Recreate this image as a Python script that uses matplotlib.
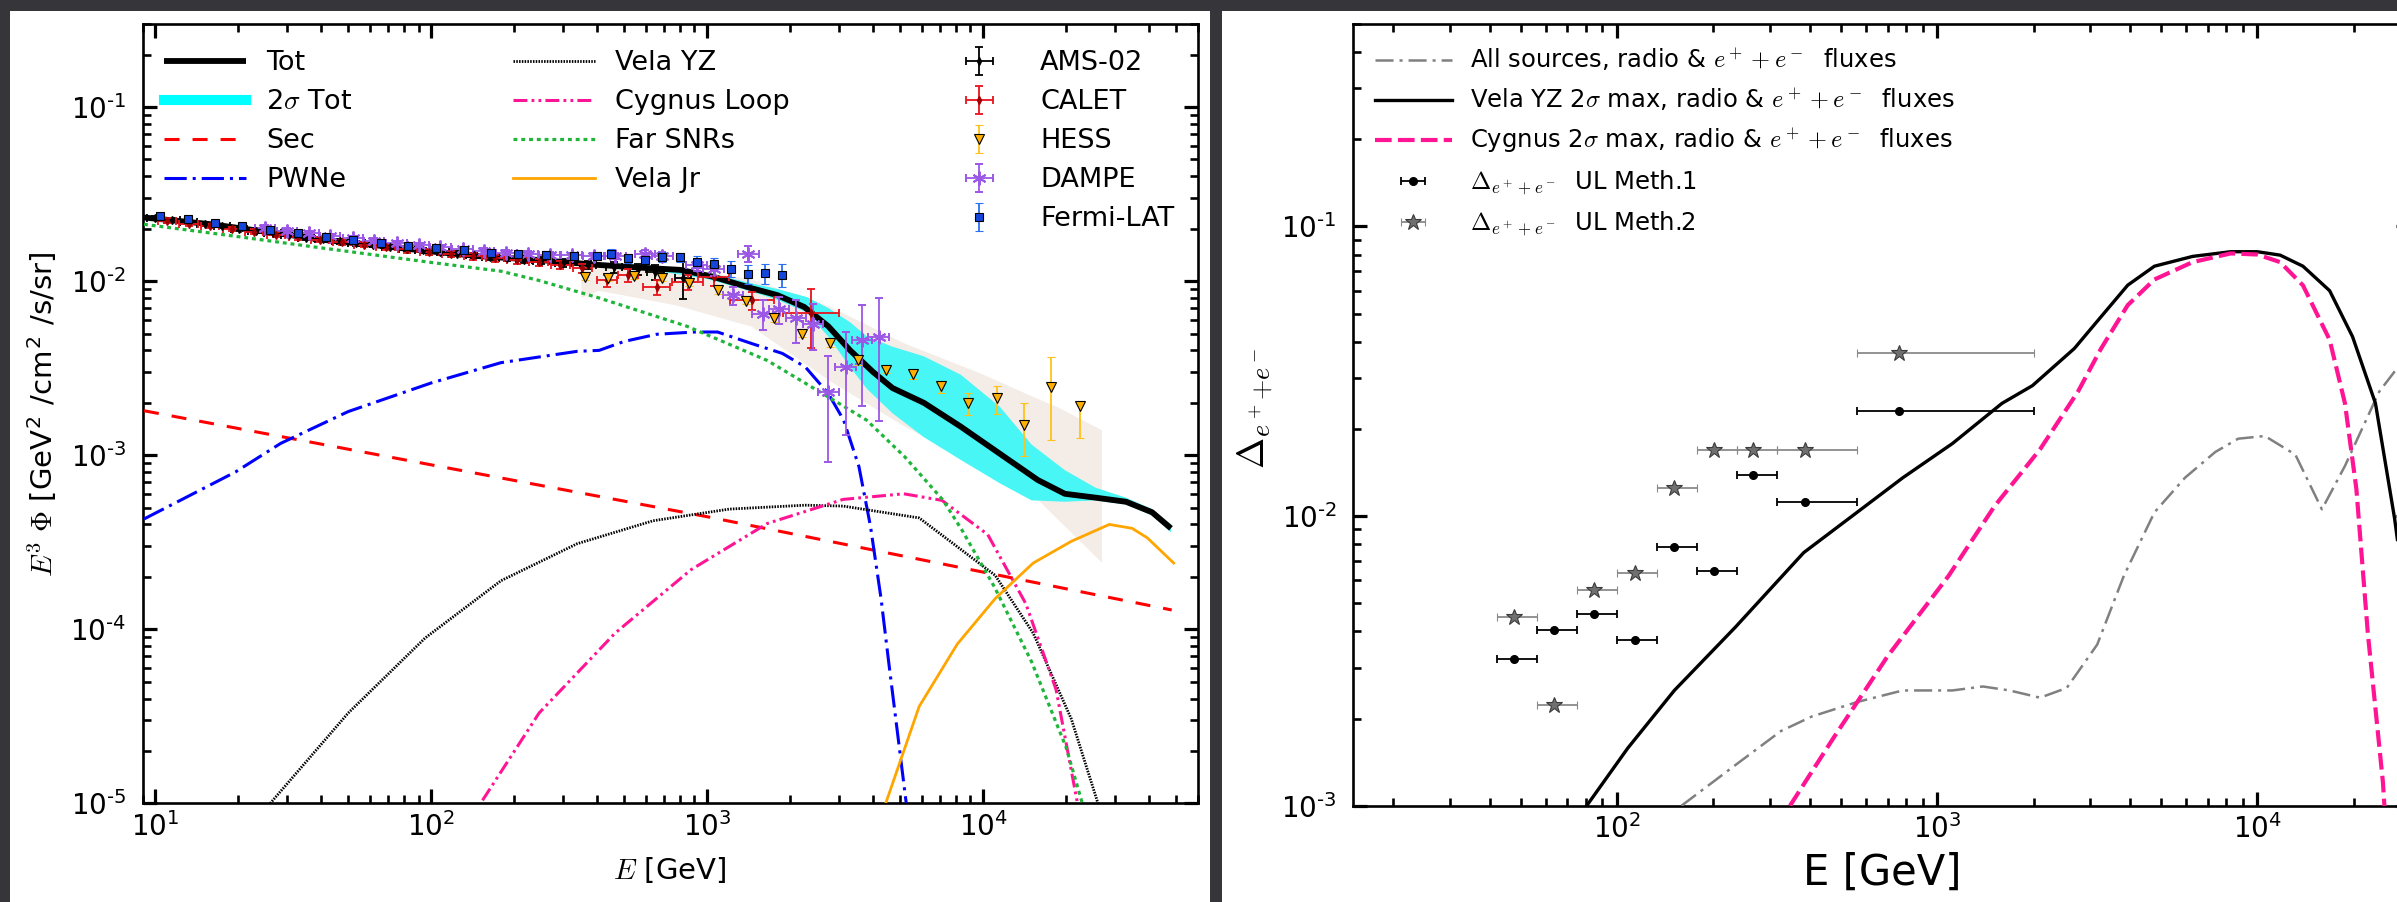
import numpy as np
import matplotlib
matplotlib.use("Agg")
import matplotlib.pyplot as plt
from matplotlib.lines import Line2D
from matplotlib.patches import Rectangle
from matplotlib.ticker import LogLocator, NullFormatter, FuncFormatter

plt.rcParams['font.family'] = ['DejaVu Sans']
plt.rcParams['mathtext.fontset'] = 'cm'
plt.rcParams['lines.scale_dashes'] = False

# ---------------- left panel: E^3 flux [GeV^2 / cm^2 / s / sr] ----------------
tot_E = [9.1, 12, 16, 20, 30, 40, 60, 100, 150, 250, 400, 600, 800, 1050, 1450, 1800,
         2250, 2750, 3300, 4000, 4700, 6100, 8300, 11500, 15800, 19800, 25600, 33000,
         41000, 48000]
tot_F = [0.0232, 0.0222, 0.0212, 0.0202, 0.0185, 0.0173, 0.0162, 0.0148, 0.0139, 0.0132,
         0.0124, 0.0119, 0.0116, 0.0106, 0.0091, 0.0083, 0.0071, 0.0055, 0.0040, 0.0030,
         0.00243, 0.0020, 0.00146, 0.00102, 0.00072, 0.00060, 0.00057, 0.00054,
         0.00047, 0.00038]

band_E = [600, 1000, 1450, 1800, 2300, 2750, 3300, 3800, 4700, 6100, 8300, 11500, 15000,
          19800, 25600, 33000, 41000, 48000]
band_hi = [0.0124, 0.0112, 0.0097, 0.0090, 0.0081, 0.0070, 0.0058, 0.0048, 0.0042, 0.0037,
           0.0029, 0.0019, 0.00115, 0.00082, 0.00065, 0.00057, 0.00049, 0.00040]
band_lo = [0.0117, 0.0103, 0.0087, 0.0078, 0.0066, 0.0048, 0.0032, 0.0024, 0.00174, 0.00127,
           0.00094, 0.00069, 0.00055, 0.00054, 0.00055, 0.00052, 0.00045, 0.00036]

env_E = [350, 406, 769, 1456, 2750, 5200, 9840, 15850, 18600, 27000]
env_hi = [0.0115, 0.0122, 0.0121, 0.0102, 0.0072, 0.00438, 0.00294, 0.0021, 0.00189, 0.00139]
env_lo = [0.0080, 0.0088, 0.00726, 0.00546, 0.0027, 0.00146, 0.000857, 0.000552, 0.00043,
          0.000241]

sec_E = [9.1, 100, 1000, 10000, 48300]
sec_F = [1.8e-3, 8.8e-4, 4.43e-4, 2.13e-4, 1.29e-4]

pwn_E = [9.1, 19.5, 28.5, 50, 100, 179, 338, 406, 500, 656, 901, 1091, 1456, 1875, 2270,
         2750, 3125, 3550, 3910, 4270, 4550, 5270, 5600]
pwn_F = [4.3e-4, 8.0e-4, 1.17e-3, 1.78e-3, 2.6e-3, 3.4e-3, 3.95e-3, 4.0e-3, 4.5e-3, 4.95e-3,
         5.1e-3, 5.1e-3, 4.37e-3, 3.84e-3, 3.21e-3, 2.26e-3, 1.59e-3, 8.6e-4, 3.9e-4,
         1.5e-4, 6.5e-5, 1e-5, 5e-6]

velayz_E = [24, 26.1, 50, 95, 179, 338, 637, 1202, 2265, 3112, 5870, 11070, 15200, 20900,
            26100, 28000]
velayz_F = [8e-6, 1e-5, 3.3e-5, 8.9e-5, 1.9e-4, 3.1e-4, 4.2e-4, 4.9e-4, 5.16e-4, 5.1e-4,
            4.36e-4, 2.04e-4, 9.5e-5, 3.05e-5, 1.0e-5, 6e-6]

cyg_E = [140, 151, 246, 464, 875, 1652, 3112, 5160, 7100, 10400, 14300, 18400, 22000, 23000]
cyg_F = [7e-6, 1e-5, 3.3e-5, 9.5e-5, 2.2e-4, 4.05e-4, 5.57e-4, 6.0e-4, 5.5e-4, 3.5e-4,
         1.4e-4, 4.5e-5, 1e-5, 6e-6]

far_E = [9.1, 19.5, 36.7, 100, 179, 245, 406, 846, 1652, 2750, 3785, 5200, 7160, 8400,
         11000, 15000, 20000, 22900, 24000]
far_F = [0.0212, 0.0181, 0.0158, 0.0128, 0.0114, 0.0101, 0.0080, 0.0055, 0.0035, 0.00216,
         0.00159, 0.00098, 0.000552, 0.00037, 0.000175, 6.5e-5, 2.1e-5, 1.0e-5, 7e-6]

velajr_E = [4300, 4440, 5870, 8060, 11070, 15200, 20900, 28700, 34700, 39400, 49100]
velajr_F = [8e-6, 1e-5, 3.6e-5, 8.2e-5, 1.5e-4, 2.4e-4, 3.2e-4, 4.0e-4, 3.8e-4, 3.35e-4, 2.4e-4]

# measurements
ams_E = [10.0, 11.5, 13.2, 15.2, 17.5, 20.1, 23.1, 26.6, 30.6, 35.2, 40.5, 46.6, 53.6, 61.6,
         70.9, 81.5, 93.7, 108, 124, 143, 164, 189, 217, 250, 300, 370, 460, 560, 650, 820]
ams_F = [0.0231, 0.0225, 0.0218, 0.0212, 0.0206, 0.0200, 0.0194, 0.0189, 0.0184, 0.0178,
         0.0174, 0.0169, 0.0165, 0.0161, 0.0157, 0.0153, 0.0150, 0.0147, 0.0144, 0.0141,
         0.0138, 0.0136, 0.0133, 0.0131, 0.0127, 0.0124, 0.0120, 0.0117, 0.0113, 0.0104]
ams_dF = [0.0006, 0.0006, 0.0005, 0.0005, 0.0005, 0.0005, 0.0005, 0.0005, 0.0005, 0.0005,
          0.0005, 0.0005, 0.0005, 0.0005, 0.0005, 0.0005, 0.0005, 0.0005, 0.0005, 0.0005,
          0.0005, 0.0006, 0.0006, 0.0006, 0.0007, 0.0007, 0.0008, 0.0009, 0.0011, 0.0025]
ams_bin = 1.07

cal_E = [11.0, 13.2, 15.8, 19.0, 22.8, 27.4, 32.9, 39.5, 47.4, 56.9, 68.3, 82.0, 98.4, 118,
         142, 170, 204, 245, 294, 353, 434, 517, 656, 850, 1057, 1456, 2380]
cal_F = [0.0222, 0.0214, 0.0207, 0.0199, 0.0192, 0.0185, 0.0179, 0.0173, 0.0167, 0.0162,
         0.0157, 0.0152, 0.0147, 0.0143, 0.0139, 0.0135, 0.0132, 0.0128, 0.0124, 0.0119,
         0.0101, 0.0108, 0.00925, 0.0099, 0.0105, 0.00776, 0.00655]
cal_dF = [0.0007, 0.0007, 0.0006, 0.0006, 0.0006, 0.0006, 0.0006, 0.0006, 0.0006, 0.0006,
          0.0006, 0.0006, 0.0006, 0.0006, 0.0006, 0.0006, 0.0006, 0.0006, 0.0007, 0.0007,
          0.0008, 0.0009, 0.0009, 0.0010, 0.0011, 0.0009, 0.0024]
cal_bin = [1.08] * 20 + [1.09, 1.09, 1.12, 1.14, 1.14, 1.2, 1.26]

dam_E = [25, 30, 36, 43, 52, 62, 75, 90, 108, 130, 155, 187, 224, 269, 323, 388, 465, 596,
         689, 916, 1057, 1242, 1410, 1588, 1820, 2100, 2420, 2750, 3175, 3640, 4190]
dam_F = [0.0203, 0.0195, 0.0188, 0.0182, 0.0176, 0.0171, 0.0166, 0.0161, 0.0156, 0.0152,
         0.0149, 0.0146, 0.0144, 0.0142, 0.0141, 0.0140, 0.0140, 0.01426, 0.0139, 0.01233,
         0.0117, 0.0083, 0.0144, 0.00651, 0.00688, 0.0061, 0.0057, 0.00231, 0.00321,
         0.00461, 0.00477]
dam_dF = [0.0006, 0.0006, 0.0006, 0.0005, 0.0005, 0.0005, 0.0005, 0.0005, 0.0005, 0.0005,
          0.0005, 0.0005, 0.0005, 0.0005, 0.0005, 0.0006, 0.0006, 0.0008, 0.0008, 0.0009,
          0.0010, 0.0010, 0.0015, 0.0013, 0.0012, 0.0017, 0.0017, 0.0014, 0.0019, 0.0027,
          0.0032]
dam_bin = 1.09

fer_E = [10.4, 13.1, 16.5, 20.7, 26.1, 32.9, 41.4, 52.1, 65.6, 82.6, 104, 131, 165, 207,
         261, 329, 400, 448, 517, 596, 689, 795, 916, 1057, 1222, 1410, 1627, 1876]
fer_F = [0.0236, 0.0226, 0.0216, 0.0206, 0.0197, 0.0188, 0.0180, 0.0172, 0.0165, 0.0159,
         0.0154, 0.0150, 0.0146, 0.0143, 0.0141, 0.0140, 0.0140, 0.0144, 0.0135, 0.0133,
         0.0138, 0.0137, 0.0129, 0.0125, 0.0118, 0.01104, 0.0111, 0.0109]
fer_dF = [0.0006, 0.0006, 0.0006, 0.0006, 0.0006, 0.0006, 0.0006, 0.0006, 0.0006, 0.0006,
          0.0006, 0.0006, 0.0006, 0.0006, 0.0007, 0.0007, 0.0007, 0.0008, 0.0008, 0.0008,
          0.0009, 0.0009, 0.0010, 0.0011, 0.0012, 0.0014, 0.0015, 0.0016]

hess_E = [360, 438, 545, 689, 859, 1098, 1387, 1751, 2200, 2800, 3530, 4440, 5580, 7050,
          8810, 11200, 14070, 17650, 22430]
hess_F = [0.0106, 0.0104, 0.0107, 0.0104, 0.00975, 0.00885, 0.00769, 0.0061, 0.0050,
          0.00441, 0.0035, 0.0031, 0.00294, 0.00249, 0.0020, 0.00212, 0.00149, 0.00247,
          0.00191]
hess_lo = [0.0004, 0.0004, 0.0004, 0.0004, 0.0004, 0.0004, 0.0003, 0.0003, 0.0002, 0.0002,
           0.0002, 0.00015, 0.0002, 0.0002, 0.0003, 0.0004, 0.0005, 0.00125, 0.00065]
hess_hi = [0.0004, 0.0004, 0.0004, 0.0004, 0.0004, 0.0003, 0.0003, 0.0003, 0.0002, 0.0002,
           0.0002, 0.00015, 0.0001, 0.0001, 0.00027, 0.00037, 0.0005, 0.0012, 0.0001]

# ---------------- right panel: Delta_{e+ + e-} ----------------
all_E = [159, 234, 325, 405, 562, 781, 1116, 1389, 1683, 2096, 2540, 3162, 3830, 4773, 5940,
         7390, 8720, 10560, 13150, 15920, 18790, 24040, 27300, 30000]
all_D = [1e-3, 1.38e-3, 1.81e-3, 2.03e-3, 2.28e-3, 2.5e-3, 2.5e-3, 2.58e-3, 2.5e-3, 2.36e-3,
         2.55e-3, 3.6e-3, 6.22e-3, 0.0103, 0.01355, 0.01664, 0.0185, 0.0189, 0.0163,
         0.01055, 0.0149, 0.0269, 0.0323, 0.034]

vyz_E = [80.4, 108, 151, 234, 383, 562, 781, 1116, 1594, 1984, 2683, 3252, 3939, 4773, 6280,
         8260, 10000, 11790, 13890, 16830, 19850, 23400, 26840, 27400]
vyz_D = [1e-3, 1.58e-3, 2.5e-3, 4.13e-3, 7.48e-3, 0.0103, 0.01356, 0.0178, 0.0245, 0.0282,
         0.0379, 0.0488, 0.0627, 0.0729, 0.0788, 0.0818, 0.0818, 0.0796, 0.0729, 0.06,
         0.0416, 0.0245, 0.00984, 0.0083]

cygr_E = [347, 477, 700, 1086, 1509, 2096, 2754, 3252, 3939, 4773, 6280, 8260, 10000, 11790,
          13890, 16830, 18790, 20400, 22150, 24700, 25100]
cygr_D = [1e-3, 1.73e-3, 3.28e-3, 6.22e-3, 0.0108, 0.017, 0.0269, 0.0379, 0.0535, 0.0656,
          0.0753, 0.0807, 0.0800, 0.0753, 0.0626, 0.0406, 0.0245, 0.0124, 3.94e-3, 1.2e-3,
          9e-4]

ul_E = [47.7, 63.4, 84.9, 113.5, 151, 200.7, 266.6, 387, 760]
ul_lo = [42.2, 56.2, 75.0, 100, 133, 178, 237, 316, 562]
ul_hi = [56.2, 75.0, 100, 133, 178, 237, 316, 562, 2000]
ul_m1 = [3.2e-3, 4.03e-3, 4.58e-3, 3.73e-3, 7.83e-3, 6.46e-3, 0.01387, 0.01114, 0.0231]
ul_m2 = [4.48e-3, 2.23e-3, 5.56e-3, 6.37e-3, 0.01247, 0.01686, 0.01686, 0.01686, 0.0367]

# ---------------- figure ----------------
W, H = 2397, 902
fig = plt.figure(figsize=(W / 100, H / 100), dpi=100)
fig.patch.set_facecolor('#363539')

for x0, x1 in [(10, 1210), (1222, W)]:
    fig.patches.append(Rectangle((x0 / W, 0), (x1 - x0) / W, 1 - 11 / H,
                                 transform=fig.transFigure, facecolor='white',
                                 edgecolor='none', zorder=-5))


def px_axes(x0, x1, ytop, ybot):
    ax = fig.add_axes([x0 / W, 1 - ybot / H, (x1 - x0) / W, (ybot - ytop) / H])
    ax.set_zorder(2)
    return ax


def pow10_label(v, pos):
    n = int(round(np.log10(v)))
    s = str(n).replace('-', '\u2010')
    return r'$\mathregular{10^{%s}}$' % s


def style(ax):
    ax.set_xscale('log')
    ax.set_yscale('log')
    for axis in (ax.xaxis, ax.yaxis):
        axis.set_major_locator(LogLocator(base=10, numticks=30))
        axis.set_minor_locator(LogLocator(base=10, subs=np.arange(2, 10), numticks=30))
        axis.set_major_formatter(FuncFormatter(pow10_label))
        axis.set_minor_formatter(NullFormatter())
    ax.tick_params(which='both', direction='in', top=True, right=True)
    ax.tick_params(which='major', length=10, width=2.3, labelsize=20)
    ax.tick_params(which='minor', length=5.8, width=1.9)
    ax.tick_params(axis='x', which='major', pad=6)
    ax.tick_params(axis='y', which='major', pad=12)
    for s in ax.spines.values():
        s.set_linewidth(1.9)


def dashes(ls_pt):
    return (0, tuple(ls_pt))


# left panel
axL = px_axes(142.7, 1197.7, 24, 803.3)
style(axL)
axL.set_xlim(9, 6e4)
axL.set_ylim(1e-5, 0.3)

axL.fill_between(env_E, env_lo, env_hi, facecolor='#f4ede7', edgecolor='none', zorder=1)
axL.fill_between(band_E, band_lo, band_hi, facecolor='#48f6f6', edgecolor='none', zorder=2)

l_sec, = axL.plot(sec_E, sec_F, color='#ff0000', lw=2.2, ls=dashes((10.8, 9.4)), zorder=3)
l_pwn, = axL.plot(pwn_E, pwn_F, color='#0000ff', lw=2.2, ls=dashes((16, 4.3, 2.2, 4.3)), zorder=3)
l_vyz, = axL.plot(velayz_E, velayz_F, color='k', lw=2.0, ls=dashes((1.1, 0.9)), zorder=3)
l_cyg, = axL.plot(cyg_E, cyg_F, color='#ff1493', lw=2.2,
                  ls=dashes((10, 3, 2, 3, 2, 3)), zorder=3)
l_far, = axL.plot(far_E, far_F, color='#1fb53a', lw=2.3, ls=dashes((2.8, 2.8)), zorder=3)
l_vjr, = axL.plot(velajr_E, velajr_F, color='#ffa500', lw=2.0, zorder=3)
l_tot, = axL.plot(tot_E, tot_F, color='k', lw=4.2, zorder=4, solid_capstyle='butt')
h_band = Line2D([], [], color='#00ffff', lw=7.3)


def bins(E, r):
    rr = r if isinstance(r, (list, tuple)) else [r] * len(E)
    return [[e - e / q for e, q in zip(E, rr)], [e * q - e for e, q in zip(E, rr)]]


eb = dict(ls='none', elinewidth=1.3, capthick=1.3, capsize=3, zorder=5)
h_ams = axL.errorbar(ams_E, ams_F, xerr=bins(ams_E, ams_bin), yerr=ams_dF, marker='d', ms=4,
                     color='k', ecolor='k', **eb)
h_cal = axL.errorbar(cal_E, cal_F, xerr=bins(cal_E, cal_bin), yerr=cal_dF, marker='d', ms=4,
                     color='#a00000', ecolor='#e8141c', **eb)
h_dam = axL.errorbar(dam_E, dam_F, xerr=bins(dam_E, dam_bin), yerr=dam_dF, marker=(6, 2, 0),
                     ms=10, mew=1.4, color='#9b57e6', ecolor='#9b57e6', **eb)
h_fer = axL.errorbar(fer_E, fer_F, yerr=fer_dF, marker='s', ms=6, mfc='#1446dc', mec='k',
                     mew=0.8, ecolor='#2a6ff5', **eb)
h_hes = axL.errorbar(hess_E, hess_F, yerr=[hess_lo, hess_hi], marker='v', ms=7, mfc='#ffb000',
                     mec='k', mew=0.8, ecolor='#ffc21a', **eb)

leg_kw = dict(frameon=False, fontsize=19.5, handlelength=3.03, handletextpad=0.74,
              borderpad=0, borderaxespad=0, labelspacing=0.48, loc='upper left')
leg1 = axL.legend([l_tot, h_band, l_sec, l_pwn], ['Tot', r'2$\sigma$ Tot', 'Sec', 'PWNe'],
                  bbox_to_anchor=(0.0202, 0.966), **leg_kw)
axL.add_artist(leg1)
leg2 = axL.legend([l_vyz, l_cyg, l_far, l_vjr], ['Vela YZ', 'Cygnus Loop', 'Far SNRs', 'Vela Jr'],
                  bbox_to_anchor=(0.351, 0.966), **leg_kw)
axL.add_artist(leg2)
axL.legend([h_ams, h_cal, h_hes, h_dam, h_fer], ['AMS-02', 'CALET', 'HESS', 'DAMPE', 'Fermi-LAT'],
           bbox_to_anchor=(0.754, 0.966), **leg_kw)

fig.text(42 / W, 1 - 414 / H, r'$E^3\ \Phi$ [GeV$^{\mathregular{2}}$ /cm$^{\mathregular{2}}$ /s/sr]',
         rotation=90, ha='center', va='center', fontsize=21)
fig.text(670 / W, 1 - 870 / H, r'$E$ [GeV]', ha='center', va='center', fontsize=21)

# right panel
axR = px_axes(1353.3, 2410, 24, 805.7)
style(axR)
axR.set_xlim(15, 3e4)
axR.set_ylim(1e-3, 0.5)

r_all, = axR.plot(all_E, all_D, color='#808080', lw=1.8, ls=dashes((13, 4.3, 2.2, 4.3)), zorder=3)
r_vyz, = axR.plot(vyz_E, vyz_D, color='k', lw=2.4, zorder=3)
r_cyg, = axR.plot(cygr_E, cygr_D, color='#ff1493', lw=3.0, ls=dashes((12, 4.5)), zorder=3)

xe = [[e - lo for e, lo in zip(ul_E, ul_lo)], [hi - e for e, hi in zip(ul_E, ul_hi)]]
r_m1 = axR.errorbar(ul_E, ul_m1, xerr=xe, marker='o', ls='none', ms=5.5, color='k', ecolor='k',
                    elinewidth=1.3, capsize=3, capthick=1.3, zorder=5)
r_m2 = axR.errorbar(ul_E, ul_m2, xerr=xe, marker='*', ls='none', ms=12, mfc='#707070',
                    mec='#3a3a3a', mew=0.8, ecolor='#8a8a8a', elinewidth=1.3, capsize=3,
                    capthick=1.3, zorder=5)

axR.legend([r_all, r_vyz, r_cyg, r_m1, r_m2],
           [r'All sources, radio & $e^+ + e^-$  fluxes',
            r'Vela YZ 2$\sigma$ max, radio & $e^+ + e^-$  fluxes',
            r'Cygnus 2$\sigma$ max, radio & $e^+ + e^-$  fluxes',
            r'$\Delta_{e^+ + e^-}$  UL Meth.1',
            r'$\Delta_{e^+ + e^-}$  UL Meth.2'],
           frameon=False, fontsize=17.5, handlelength=3.15, handletextpad=0.76,
           borderpad=0, borderaxespad=0, labelspacing=0.52, loc='upper left',
           bbox_to_anchor=(0.0205, 0.9705))

fig.text(1255 / W, 1 - 408 / H, r'$\Delta_{e^+{+}e^-}$', rotation=90, ha='center',
         va='center', fontsize=27)
fig.text(1882 / W, 1 - 873 / H, 'E [GeV]', ha='center', va='center', fontsize=30)

fig.savefig('out.png', dpi=100, facecolor=fig.get_facecolor())
